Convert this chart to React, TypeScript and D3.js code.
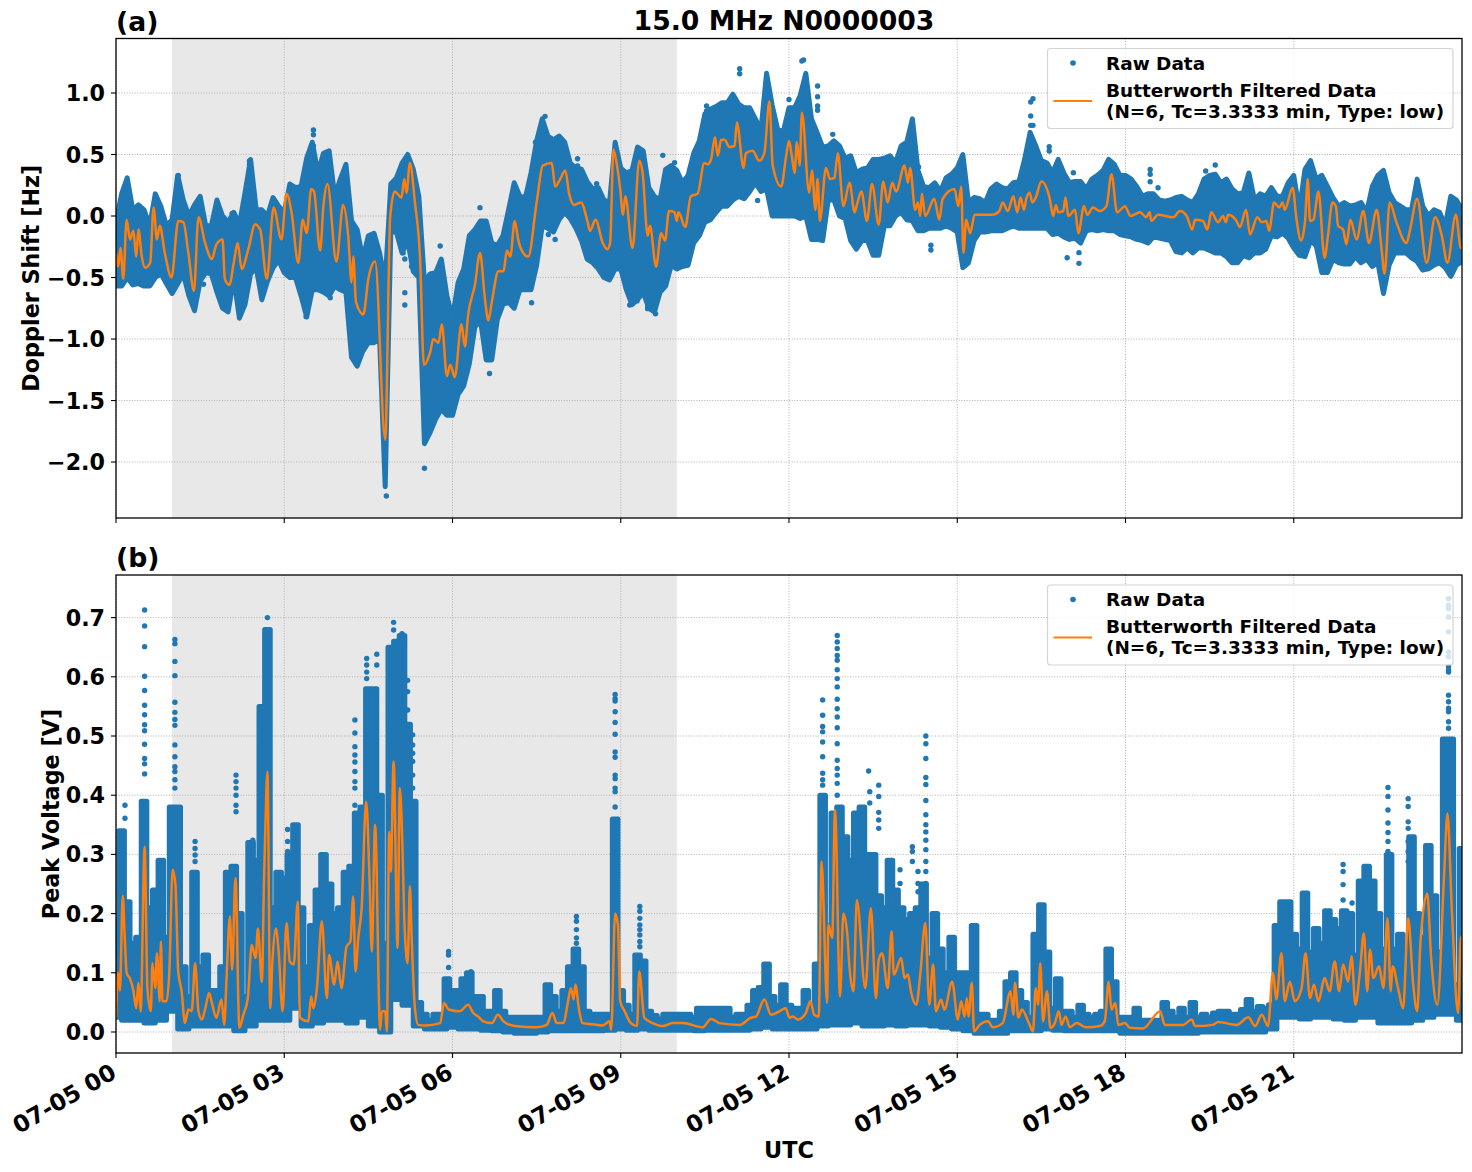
import React from "react";
import * as d3 from "d3";

const startDate = Date.UTC(2021, 6, 5);
const xTickHours = [0, 3, 6, 9, 12, 15, 18, 21];
const yTicksA = [1, 0.5, 0, -0.5, -1, -1.5, -2];
const yTicksB = [0.7, 0.6, 0.5, 0.4, 0.3, 0.2, 0.1, 0];
const shadeHours = [1, 10];

// Doppler raw envelope, one value every 0.1 h, ten values per hour of the day
const hiA = [
-.05,.18,.31,.05,.09,.05,-.08,.18,.08,-.08,
-.03,.33,.13,0,.09,.16,-.08,-.08,.13,0,
-.05,.03,-.07,.19,.46,.05,.05,0,.15,.08,
.03,.26,.23,.24,.47,.6,.35,.51,.53,.16,
.3,.42,-.04,-.11,-.35,-.16,-.14,-.3,-.54,.26,
.31,.43,.5,.38,.16,-.54,-.47,-.46,-.35,-.65,
-.83,-.54,-.43,-.16,-.11,-.04,-.04,-.22,-.24,-.16,
.05,.27,.16,.15,.35,.61,.79,.65,.62,.65,
.6,.43,.39,.38,.28,.22,.23,.13,.11,.6,
.39,.35,.37,.56,.53,.23,.16,.13,.38,.41,
.37,.27,.33,.51,.61,.83,.87,.89,.92,.92,
.99,.91,.88,.88,.79,.7,1.16,.9,.7,.69,
.88,.88,.98,1.16,.79,.68,.56,.57,.61,.57,
.47,.49,.35,.38,.39,.46,.46,.47,.49,.43,
.57,.6,.79,.37,.24,.23,.27,.2,.31,.34,
.39,.5,.11,.15,.14,.11,.22,.26,.23,.22,
.27,.28,.46,.68,.57,.45,.43,.35,.46,.35,
.27,.28,.28,.22,.3,.33,.37,.46,.42,.33,
.33,.3,.24,.16,.18,.18,.13,.12,.13,.15,
.16,.13,.11,.18,.3,.33,.34,.27,.3,.22,
.18,.19,.35,.13,.18,.16,.23,.16,.16,.27,
.33,.05,.38,.45,.3,.33,.24,.15,.08,.11,
.08,.09,.11,.03,.24,.33,.37,.19,.11,.08,
.05,.05,.3,.08,0,.05,.03,-.08,.16,.13,
.05];
const loA = [
-.57,-.57,-.5,-.56,-.55,-.57,-.57,-.5,-.47,-.55,
-.63,-.55,-.47,-.65,-.77,-.53,-.46,-.47,-.62,-.75,
-.78,-.5,-.83,-.72,-.47,-.42,-.68,-.53,-.42,-.36,
-.46,-.5,-.5,-.65,-.82,-.6,-.6,-.62,-.65,-.57,
-.6,-.62,-1.15,-1.22,-1.1,-1.03,-1.03,-1,-2.2,-.13,
-.13,-.3,-.2,-.45,-.5,-1.85,-1.76,-1.65,-1.57,-1.62,
-1.62,-1.45,-1.38,-1.2,-.9,-.85,-1.17,-1.17,-.84,-.72,
-.7,-.75,-.6,-.6,-.6,-.4,-.08,-.1,-.13,-.03,
.03,-.02,-.1,-.2,-.35,-.38,-.43,-.5,-.52,-.43,
-.43,-.6,-.72,-.68,-.62,-.75,-.78,-.62,-.57,-.4,
-.43,-.41,-.4,-.22,-.16,-.05,-.03,.03,.08,.08,
.13,.16,.14,.2,.27,.2,.22,0,0,0,
0,0,-.02,0,-.19,-.19,-.2,.13,.13,0,
-.02,-.2,-.27,-.2,-.2,-.32,-.32,-.08,-.08,0,
.03,-.03,-.04,-.12,-.12,-.1,-.1,-.1,-.08,-.1,
-.13,-.42,-.38,-.2,-.13,-.13,-.12,-.12,-.12,-.1,
-.08,-.1,-.1,-.1,-.1,-.1,-.1,-.15,-.14,-.17,
-.19,-.18,-.22,-.12,-.11,-.12,-.11,-.12,-.12,-.15,
-.16,-.17,-.19,-.2,-.22,-.17,-.18,-.19,-.2,-.29,
-.3,-.26,-.3,-.26,-.26,-.28,-.3,-.3,-.33,-.38,
-.38,-.32,-.34,-.3,-.3,-.27,-.16,-.17,-.14,-.18,
-.26,-.32,-.33,-.2,-.24,-.46,-.46,-.35,-.38,-.39,
-.39,-.33,-.38,-.35,-.41,-.38,-.63,-.4,-.3,-.3,
-.3,-.34,-.37,-.44,-.43,-.4,-.38,-.42,-.49,-.4,
-.37];

// Doppler filtered trace
const filtATimes = [0,.04,.08,.13,.19,.25,.31,.36,.40,.46,.52,.61,.67,.73,.78,.87,.99,1.11,1.20,1.29,1.39,1.47,1.59,1.71,1.79,1.90,1.94,2.02,2.10,2.17,2.24,2.36,2.48,2.57,2.69,2.81,2.95,3.04,3.13,3.25,3.33,3.40,3.48,3.53,3.64,3.70,3.77,3.93,4.05,4.14,4.20,4.23,4.28,4.41,4.50,4.62,4.80,4.89,4.97,5.09,5.14,5.18,5.24,5.33,5.42,5.49,5.60,5.66,5.75,5.81,5.90,5.96,6.04,6.16,6.22,6.28,6.40,6.49,6.58,6.64,6.70,6.82,6.91,6.97,7.03,7.11,7.17,7.26,7.35,7.50,7.61,7.77,7.83,7.92,8.01,8.08,8.17,8.29,8.41,8.45,8.55,8.68,8.76,8.81,8.87,8.93,8.99,9.04,9.08,9.21,9.33,9.39,9.48,9.52,9.63,9.72,9.79,9.86,9.96,10.0,10.03,10.15,10.25,10.37,10.49,10.55,10.61,10.68,10.73,10.79,10.85,10.94,11.03,11.07,11.19,11.23,11.35,11.47,11.56,11.65,11.71,11.86,11.95,12.0,12.05,12.10,12.14,12.19,12.23,12.36,12.41,12.47,12.51,12.55,12.66,12.73,12.81,12.87,12.97,13.08,13.17,13.21,13.29,13.39,13.48,13.60,13.68,13.76,13.84,13.91,14.06,14.12,14.16,14.25,14.30,14.34,14.37,14.43,14.59,14.68,14.74,14.95,15.02,15.07,15.11,15.16,15.23,15.31,15.63,15.75,15.81,15.90,16.0,16.07,16.13,16.19,16.23,16.29,16.34,16.40,16.50,16.65,16.71,16.76,16.80,16.89,16.93,16.98,17.10,17.16,17.26,17.32,17.42,17.54,17.66,17.75,17.85,17.99,18.09,18.26,18.37,18.43,18.46,18.58,18.85,18.97,19.09,19.19,19.24,19.38,19.46,19.53,19.65,19.74,19.79,19.83,19.98,20.04,20.15,20.22,20.35,20.43,20.51,20.56,20.65,20.74,20.80,20.84,20.98,21.05,21.13,21.2,21.25,21.29,21.35,21.44,21.55,21.61,21.69,21.75,21.79,21.88,21.94,22.01,22.12,22.24,22.34,22.48,22.56,22.62,22.71,22.83,23.01,23.07,23.2,23.37,23.52,23.64,23.74,23.89,23.98,24];
const filtAValues = [-.30,-.41,-.26,-.51,-.03,-.19,-.12,-.33,-.11,-.33,-.42,-.38,.07,-.19,-.08,-.30,-.50,-.04,-.05,-.30,-.61,-.01,-.22,-.35,-.23,-.19,-.51,-.56,-.38,-.22,-.43,-.27,-.07,-.11,-.51,.07,-.19,.18,.03,-.38,-.03,-.14,.22,.20,-.28,.09,.26,-.37,.09,-.16,-.54,-.33,-.70,-.80,-.51,-.37,-1.82,0,.20,.15,.30,.19,.43,.11,-.33,-1.21,-1.11,-1.00,-1.03,-.88,-1.30,-1.21,-1.31,-.88,-1.06,-.80,-.56,-.30,-.68,-.85,-.70,-.45,-.45,-.28,-.33,-.04,-.19,-.30,-.33,.11,.41,.43,.24,.30,.37,.18,.09,.11,-.05,-.12,-.03,-.22,-.27,-.22,.54,.42,.22,.01,.16,-.26,.45,.35,-.16,-.08,-.41,-.14,-.20,.04,.03,-.04,.03,-.09,.16,.18,.43,.42,.46,.64,.49,.62,.62,.56,.57,.76,.39,.51,.53,.45,.51,.93,.41,.24,.49,.61,.49,.35,.60,.41,.84,.19,.37,.05,.30,-.04,.39,.30,.31,.51,.08,.27,.03,.09,.20,-.04,.26,-.07,.28,.11,.27,.20,.41,.27,.39,.05,.11,0,.18,0,.14,-.03,.14,.22,.08,.24,-.30,-.03,-.14,.01,.01,.04,.11,.04,.16,.03,.15,.05,.14,.19,.11,.15,.28,.14,0,.09,.03,.04,.15,0,.05,-.14,.08,.01,.07,.04,.08,.34,.03,.08,0,.03,-.01,.03,-.04,.01,-.01,.04,0,-.11,-.03,-.04,-.11,.03,-.05,0,-.05,.01,-.04,-.09,.05,-.15,-.01,-.05,-.04,-.12,.11,.07,.11,.05,.23,-.03,-.20,-.05,.30,-.04,-.03,.20,-.34,-.16,.11,.08,-.08,-.11,-.23,-.03,-.19,.04,-.22,.05,-.24,-.47,.11,-.05,-.22,-.12,.14,-.38,-.01,-.16,-.38,.01,-.26,-.26];

// Doppler isolated dots
const outAHours = [3.52,3.52,3.52,2.38,2.38,2.38,2.38,1.11,1.11,2.07,2.22,1.56,3.82,3.39,5.15,5.15,5.78,5.5,4.82,6.66,7.41,6.49,7.65,7.48,7.83,7.71,5.12,5.15,5.27,5.0,11.12,11.12,12.26,12.23,12.51,12.51,12.51,12.51,12.0,9.75,9.96,8.23,8.23,8.57,11.44,10.53,10.53,12.78,14.31,14.31,14.53,14.53,9.16,9.29,9.48,9.48,9.62,16.31,16.35,16.31,16.31,16.35,16.64,16.64,16.96,17.17,17.17,17.07,18.44,18.44,18.44,18.58,19.6,19.43];
const outAValues = [.70,.66,.57,.447,.42,.39,.33,.33,.265,.02,-.08,-.555,-.664,-.818,-.623,-.724,-.244,-2.05,-2.276,-1.28,-.705,.068,.81,.60,-.19,-.15,-.30,-.35,-.41,-.12,1.198,1.157,1.268,1.26,1.057,.97,.894,.86,.948,.493,.434,.466,.407,.263,.127,.894,.854,.664,.398,.339,-.238,-.276,-.724,-.69,-.737,-.753,-.794,.927,.954,.813,.737,.737,.564,.528,-.339,-.298,-.385,.352,.379,.339,.279,.23,.415,.366];

// Voltage raw envelope: upper every 0.1 h, lower every 0.2 h
const hiB = [.19,.34,.22,.15,.16,.39,.21,.24,.29,.16,.38,.38,.11,.06,.27,.11,.13,.07,.07,.11,.27,.28,.20,.06,.32,.29,.55,.68,.21,.27,.26,.30,.35,.21,.11,.18,.24,.30,.25,.20,.21,.27,.28,.37,.38,.58,.58,.40,.15,.65,.66,.67,.52,.39,.05,.03,.02,.03,.03,.09,.07,.07,.09,.10,.06,.06,.035,.035,.07,.035,.025,.025,.025,.025,.025,.025,.025,.08,.06,.035,.07,.11,.14,.11,.035,.03,.03,.03,.03,.36,.07,.045,.03,.13,.12,.035,.028,.022,.03,.03,.03,.03,.03,.025,.04,.04,.04,.04,.04,.04,.025,.03,.03,.045,.07,.075,.115,.06,.045,.08,.045,.04,.04,.07,.04,.115,.40,.18,.37,.38,.33,.29,.37,.38,.30,.30,.23,.21,.29,.24,.21,.19,.20,.21,.25,.125,.20,.14,.10,.16,.10,.10,.10,.18,.03,.03,.02,.02,.035,.085,.10,.07,.05,.025,.165,.215,.135,.04,.09,.035,.035,.025,.045,.03,.025,.03,.035,.14,.085,.025,.025,.025,.04,.02,.02,.02,.02,.05,.035,.025,.04,.025,.05,.025,.03,.025,.032,.035,.035,.03,.03,.038,.055,.035,.043,.04,.046,.18,.22,.22,.165,.14,.235,.135,.175,.15,.205,.19,.175,.205,.20,.13,.255,.28,.255,.20,.14,.30,.14,.165,.11,.33,.20,.16,.315,.23,.135,.495,.495,.08,.31];
const loB = [.025,.02,.02,.015,.02,.035,.005,.01,.01,.01,.01,.002,.01,.02,.02,.02,.04,.01,.015,.02,.02,.015,.025,.01,0,.055,.045,.01,.005,.005,.008,.005,.005,.003,.002,0,-.002,-.002,0,.002,.002,.002,.002,.002,.003,.005,.003,.005,.003,.003,.003,.003,.002,.003,.003,.003,.003,.005,.008,.005,.005,.005,.005,.01,.012,.012,.015,.01,.01,.012,.01,.012,.012,.01,.008,.005,.002,-.002,-.002,-.002,.002,.002,.002,.005,.003,.002,.002,.002,.002,.002,-.002,-.002,-.002,-.002,-.002,-.002,-.002,0,0,0,0,0,0,.005,.025,.025,.022,.025,.025,.022,.02,.025,.025,.015,.015,.015,.02,.025,.03,.03,.02];

// Voltage filtered trace
const filtBTimes = [0,.04,.07,.12,.16,.19,.25,.31,.36,.40,.44,.51,.56,.62,.65,.70,.73,.78,.80,.83,.90,.95,1.01,1.06,1.11,1.17,1.23,1.29,1.35,1.41,1.47,1.53,1.60,1.66,1.71,1.79,1.88,1.93,1.97,2.03,2.07,2.13,2.20,2.27,2.35,2.42,2.49,2.53,2.60,2.64,2.66,2.70,2.75,2.79,2.85,2.90,2.97,3.04,3.10,3.17,3.24,3.28,3.43,3.48,3.52,3.58,3.67,3.76,3.80,3.89,3.95,4.02,4.11,4.18,4.23,4.27,4.32,4.38,4.46,4.52,4.56,4.62,4.71,4.74,4.80,4.83,4.87,4.90,4.95,5.02,5.06,5.11,5.14,5.20,5.24,5.27,5.33,5.39,5.51,5.78,5.85,5.93,6.13,6.28,6.37,6.46,6.55,6.70,6.81,6.91,7.11,7.50,7.68,7.78,7.86,7.98,8.05,8.11,8.16,8.19,8.26,8.32,8.5,8.68,8.80,8.83,8.90,8.95,8.99,9.07,9.18,9.29,9.33,9.42,9.57,9.75,9.93,10.11,10.46,10.61,10.76,11.12,11.32,11.41,11.56,11.68,11.83,11.94,12.01,12.07,12.16,12.30,12.38,12.45,12.53,12.58,12.68,12.70,12.77,12.82,12.91,12.97,13.04,13.08,13.15,13.21,13.36,13.46,13.55,13.6,13.66,13.76,13.83,13.87,14.0,14.06,14.12,14.18,14.27,14.34,14.43,14.50,14.57,14.62,14.71,14.77,14.91,15.01,15.07,15.13,15.17,15.20,15.26,15.30,15.40,15.55,15.63,15.81,15.95,16.0,16.03,16.09,16.15,16.29,16.35,16.40,16.44,16.48,16.53,16.60,16.66,16.74,16.81,16.86,16.93,17.01,17.13,17.30,17.54,17.63,17.70,17.75,17.82,17.87,17.99,18.08,18.31,18.62,18.70,19.03,19.18,19.24,19.56,19.65,19.98,20.19,20.31,20.43,20.54,20.63,20.69,20.78,20.84,20.93,21.02,21.14,21.21,21.29,21.36,21.44,21.55,21.64,21.73,21.81,21.88,21.97,22.03,22.1,22.18,22.25,22.31,22.36,22.42,22.52,22.6,22.67,22.73,22.76,22.86,22.95,23.04,23.13,23.2,23.26,23.38,23.45,23.56,23.68,23.74,23.82,23.93,23.98,24];
const filtBValues = [.024,.10,.07,.23,.15,.10,.09,.07,.04,.083,.035,.313,.074,.035,.116,.074,.133,.052,.153,.052,.052,.10,.274,.249,.102,.069,.015,.038,.035,.116,.035,.021,.043,.066,.049,.024,.055,.012,.088,.195,.105,.26,.007,.029,.057,.147,.125,.175,.085,.26,.333,.44,.04,.122,.175,.136,.035,.184,.119,.114,.22,.024,.018,.06,.04,.071,.187,.057,.13,.08,.119,.074,.144,.153,.229,.102,.159,.209,.389,.26,.136,.35,.004,.035,.035,.001,.338,.271,.457,.142,.412,.305,.192,.116,.246,.164,.04,.012,.011,.015,.049,.038,.035,.046,.032,.026,.018,.015,.029,.018,.01,.008,.012,.032,.015,.015,.046,.074,.055,.08,.035,.015,.013,.011,.018,.004,.2,.181,.052,.035,.015,.01,.102,.024,.015,.01,.015,.015,.008,.022,.015,.012,.024,.026,.055,.029,.035,.04,.024,.026,.021,.032,.052,.029,.026,.288,.049,.181,.159,.375,.06,.2,.164,.108,.069,.223,.074,.209,.057,.122,.133,.074,.17,.097,.125,.091,.097,.066,.046,.097,.184,.046,.114,.035,.055,.038,.085,.021,.052,.026,.057,.026,.083,.001,.012,.018,.008,.015,.069,.029,.083,.024,.038,.012,.001,.074,.046,.116,.018,.069,.007,.015,.035,.012,.026,.008,.015,.008,.01,.018,.085,.038,.049,.012,.015,.007,.006,.035,.012,.012,.021,.01,.012,.017,.012,.025,.01,.029,.01,.1,.055,.133,.052,.085,.052,.074,.133,.057,.08,.052,.091,.069,.119,.069,.114,.085,.128,.046,.102,.167,.069,.139,.091,.111,.074,.192,.069,.111,.074,.04,.192,.08,.035,.153,.234,.125,.046,.263,.369,.204,.032,.161,.16];

// Voltage isolated dots
const outBHours = [.51,.51,.51,.51,.51,.51,.51,.51,.51,.51,.51,.51,.51,1.05,1.05,1.05,1.05,1.05,1.05,1.05,1.05,1.05,1.05,1.05,1.05,1.05,1.05,.16,.16,1.41,1.41,1.41,1.41,1.41,1.41,1.41,2.14,2.14,2.14,2.14,2.14,2.14,2.7,2.44,2.44,2.44,2.44,3.06,3.06,3.06,3.06,4.26,4.26,4.26,4.26,4.26,4.26,4.26,4.26,4.26,4.26,4.26,4.26,4.47,4.47,4.47,4.47,4.65,4.65,4.95,4.95,5.1,5.1,5.2,5.2,5.2,5.29,5.29,5.29,5.29,5.29,5.29,5.93,5.93,5.93,6.33,8.9,8.9,8.9,8.9,8.9,8.9,8.9,8.9,8.9,8.9,8.9,8.9,8.9,8.21,8.21,8.21,8.21,8.21,9.34,9.34,9.34,9.34,9.34,9.34,9.34,9.34,12.6,12.6,12.6,12.6,12.6,12.6,12.6,12.6,12.6,12.86,12.86,12.86,12.86,12.86,12.86,12.86,12.86,12.86,12.86,12.86,12.86,12.86,12.86,12.86,12.86,12.86,12.86,13.42,13.44,13.44,13.6,13.6,13.6,13.6,13.6,13.98,13.98,14.2,14.2,14.2,14.3,14.3,14.3,14.44,14.44,14.44,14.44,14.44,14.44,14.44,14.44,14.44,14.44,14.44,14.44,14.44,14.44,22.68,22.68,22.68,22.68,22.68,22.68,22.68,22.68,22.68,23.04,23.04,23.04,23.04,23.04,23.04,23.04,21.88,21.88,21.88,21.88,22.04,23.76,23.76,23.76,23.76,23.76,23.76,23.76,23.76,23.76,23.76,23.76,23.76,23.76,23.76,23.76,23.76];
const outBValues = [.713,.686,.651,.601,.577,.552,.536,.519,.509,.486,.462,.453,.436,.663,.656,.626,.602,.557,.540,.528,.518,.485,.465,.448,.44,.426,.412,.383,.361,.322,.31,.299,.288,.262,.24,.232,.434,.423,.412,.4,.383,.372,.70,.324,.316,.305,.289,.342,.322,.305,.277,.527,.505,.482,.468,.456,.44,.423,.412,.383,.367,.344,.322,.631,.62,.608,.597,.638,.62,.692,.679,.673,.656,.594,.575,.544,.502,.485,.471,.457,.434,.412,.136,.13,.109,.102,.57,.563,.559,.541,.523,.503,.473,.464,.434,.428,.412,.406,.38,.195,.187,.173,.159,.15,.212,.204,.192,.181,.173,.164,.153,.144,.561,.535,.516,.507,.49,.465,.437,.426,.417,.67,.659,.648,.636,.628,.612,.597,.583,.562,.546,.532,.514,.487,.459,.445,.434,.42,.4,.441,.406,.387,.417,.398,.371,.358,.344,.274,.251,.313,.305,.288,.271,.251,.237,.5,.487,.462,.43,.418,.391,.367,.35,.338,.324,.308,.288,.271,.251,.413,.398,.375,.353,.337,.322,.305,.288,.271,.394,.381,.355,.344,.322,.305,.288,.283,.271,.249,.223,.218,.732,.721,.715,.701,.676,.642,.634,.617,.611,.608,.569,.558,.547,.541,.524,.513];

const legendRaw = "Raw Data";
const legendFilt1 = "Butterworth Filtered Data";
const legendFilt2 = "(N=6, Tc=3.3333 min, Type: low)";

const BLUE = "#1f77b4";
const ORANGE = "#ff7f0e";
const FONT = "'DejaVu Sans', sans-serif";

const toDate = (h: number) => new Date(startDate + h * 3600000);
const x = d3.scaleUtc().domain([toDate(0), toDate(24)]).range([116, 1462]);
const fmt = d3.utcFormat("%m-%d %H");
const yFmt = (v: number) => v.toFixed(1).replace("-", "\u2212");
const edge = (curve: d3.CurveFactory) => d3.line<[number, number]>().x((d) => d[0]).y((d) => d[1]).curve(curve);
const smoothLine = edge(d3.curveMonotoneX);

function Panel(props: {
  id: string; tag: string; top: number; bottom: number; domain: [number, number]; ticks: number[];
  hi: number[]; hiStep: number; lo: number[]; loStep: number; fT: number[]; fV: number[];
  oT: number[]; oV: number[]; yLabel: string; yLabelX: number; xLabels: boolean; curve: d3.CurveFactory;
}) {
  const { id, tag, top, bottom, domain, ticks, hi, hiStep, lo, loStep, fT, fV, oT, oV, yLabel, yLabelX, xLabels, curve } = props;
  const y = d3.scaleLinear().domain(domain).range([bottom, top]);
  const hiPts = hi.map((v, i) => [x(toDate(i * hiStep)), y(v)] as [number, number]);
  const loPts = lo.map((v, i) => [x(toDate(i * loStep)), y(v)] as [number, number]).reverse();
  const side = edge(curve);
  const envelope = (side(hiPts) as string) + "L" + (side(loPts) as string).slice(1) + "Z";
  const filt = smoothLine(fT.map((t, i) => [x(toDate(t)), y(fV[i])] as [number, number])) as string;
  const [L, R] = x.range();
  const legTop = top + 10;
  return (
    <g fontFamily={FONT} fontWeight="bold" fill="#000">
      <clipPath id={id}><rect x={L} y={top} width={R - L} height={bottom - top} /></clipPath>
      <rect x={x(toDate(shadeHours[0]))} y={top} width={x(toDate(shadeHours[1])) - x(toDate(shadeHours[0]))} height={bottom - top} fill="#808080" fillOpacity={0.18} />
      {xTickHours.map((h) => (
        <line key={h} x1={x(toDate(h))} x2={x(toDate(h))} y1={top} y2={bottom} stroke="#b0b0b0" strokeWidth={1} strokeDasharray="1 1.65" />
      ))}
      {ticks.map((t) => (
        <line key={t} x1={L} x2={R} y1={y(t)} y2={y(t)} stroke="#b0b0b0" strokeWidth={1} strokeDasharray="1 1.65" />
      ))}
      <g clipPath={`url(#${id})`}>
        <path d={envelope} fill={BLUE} stroke={BLUE} strokeWidth={5} strokeLinejoin="round" />
        {oT.map((t, i) => <circle key={i} cx={x(toDate(t))} cy={y(oV[i])} r={2.7} fill={BLUE} />)}
        <path d={filt} fill="none" stroke={ORANGE} strokeWidth={2.5} strokeLinejoin="round" />
      </g>
      {xTickHours.map((h) => (
        <line key={h} x1={x(toDate(h))} x2={x(toDate(h))} y1={bottom} y2={bottom + 5} stroke="#000" strokeWidth={1.1} />
      ))}
      {ticks.map((t) => (
        <g key={t}>
          <line x1={L - 5} x2={L} y1={y(t)} y2={y(t)} stroke="#000" strokeWidth={1.1} />
          <text x={L - 11} y={y(t) + 8} textAnchor="end" fontSize={22.2}>{yFmt(t)}</text>
        </g>
      ))}
      <rect x={L} y={top} width={R - L} height={bottom - top} fill="none" stroke="#000" strokeWidth={1.3} />
      <text x={L} y={top - 8} fontSize={26.67}>{tag}</text>
      <text transform={`translate(${yLabelX},${(top + bottom) / 2}) rotate(-90)`} textAnchor="middle" fontSize={22.3}>{yLabel}</text>
      <rect x={1047.5} y={legTop} width={405.5} height={80} rx={3} fill="#fff" fillOpacity={0.8} stroke="#d4d4d4" strokeWidth={1.2} />
      <circle cx={1073} cy={legTop + 14.5} r={2.8} fill={BLUE} />
      <line x1={1053.5} x2={1092} y1={legTop + 52.5} y2={legTop + 52.5} stroke={ORANGE} strokeWidth={2} />
      <text x={1106} y={legTop + 21} fontSize={18.45}>{legendRaw}</text>
      <text x={1106} y={legTop + 48} fontSize={18.45}>{legendFilt1}</text>
      <text x={1106} y={legTop + 69} fontSize={18.45}>{legendFilt2}</text>
      {xLabels && xTickHours.map((h) => (
        <text key={h} transform={`translate(${x(toDate(h)) + 2},${bottom + 24}) rotate(-30)`} textAnchor="end" fontSize={23.2}>{fmt(toDate(h))}</text>
      ))}
    </g>
  );
}

export default function App() {
  return (
    <svg width={1472} height={1172} viewBox="0 0 1472 1172" style={{ position: "absolute", left: 0, top: 0, background: "#fff" }}>
      <text x={784} y={30} textAnchor="middle" fontFamily={FONT} fontWeight="bold" fontSize={26.67}>15.0 MHz N0000003</text>
      <Panel id="ca" tag="(a)" top={38.5} bottom={518} domain={[-2.455, 1.443]} ticks={yTicksA} hi={hiA} hiStep={0.1} lo={loA} loStep={0.1} fT={filtATimes} fV={filtAValues} oT={outAHours} oV={outAValues} yLabel="Doppler Shift [Hz]" yLabelX={38.5} xLabels={false} curve={d3.curveLinear} />
      <Panel id="cb" tag="(b)" top={575} bottom={1053} domain={[-0.0355, 0.772]} ticks={yTicksB} hi={hiB} hiStep={0.1} lo={loB} loStep={0.2} fT={filtBTimes} fV={filtBValues} oT={outBHours} oV={outBValues} yLabel="Peak Voltage [V]" yLabelX={58.5} xLabels={true} curve={d3.curveStep} />
      <text x={789} y={1158} textAnchor="middle" fontFamily={FONT} fontWeight="bold" fontSize={22.4}>UTC</text>
    </svg>
  );
}
